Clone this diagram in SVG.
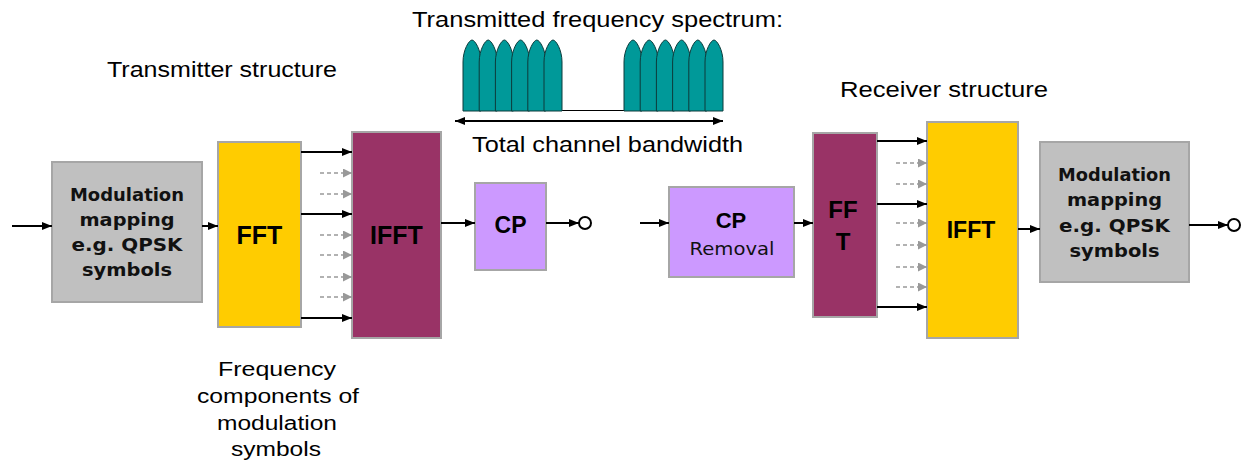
<svg xmlns="http://www.w3.org/2000/svg" width="1248" height="466" viewBox="0 0 1248 466">
<style>
.t{font-family:"Liberation Sans",Arial,sans-serif;font-size:22px;fill:#000}
.lbl{font-family:"Liberation Sans",Arial,sans-serif;font-size:20px;fill:#000;text-anchor:middle}
.bt{font-family:"DejaVu Sans",Tahoma,sans-serif;font-weight:bold;font-size:17px;fill:#111;text-anchor:middle}
.big{font-family:"Liberation Sans",Arial,sans-serif;font-weight:bold;fill:#000;text-anchor:middle}
.rt{font-family:"DejaVu Sans",Tahoma,sans-serif;font-size:17px;fill:#111;text-anchor:middle}
.box{stroke:#a6a6a6;stroke-width:2}
.gray{fill:#c0c0c0}
.yel{fill:#ffcc00}
.mar{fill:#993366}
.lav{fill:#cc99ff}
.a{stroke:#000;stroke-width:2;fill:none;marker-end:url(#ah)}
.d{stroke:#999;stroke-width:1.5;stroke-dasharray:4 3;fill:none;marker-end:url(#ahg)}
.lobe{fill:#009999;stroke:#0d3b3b;stroke-width:1}
</style>
<defs>
<marker id="ah" markerUnits="userSpaceOnUse" markerWidth="10" markerHeight="8" refX="10" refY="4" orient="auto"><path d="M0,0 L10,4 L0,8 Z" fill="#000"/></marker>
<marker id="ahg" markerUnits="userSpaceOnUse" markerWidth="9" markerHeight="9" refX="9" refY="4.5" orient="auto"><path d="M0,0 L9,4.5 L0,9 Z" fill="#999"/></marker>
<marker id="ahs" markerUnits="userSpaceOnUse" markerWidth="10" markerHeight="8" refX="10" refY="4" orient="auto-start-reverse"><path d="M0,0 L10,4 L0,8 Z" fill="#000"/></marker>
<path id="lb" d="M0,111 V62 C0,50 6,40 9,40 C12,40 18,50 18,62 V111 Z"/>
</defs>

<g id="titles">
<text class="t" x="412" y="27" textLength="371" lengthAdjust="spacingAndGlyphs">Transmitted frequency spectrum:</text>
<text class="t" x="107" y="77" textLength="230" lengthAdjust="spacingAndGlyphs">Transmitter structure</text>
<text class="t" x="840" y="97" textLength="208" lengthAdjust="spacingAndGlyphs">Receiver structure</text>
</g>

<g id="spectrum">
<line x1="463" y1="110.5" x2="722" y2="110.5" stroke="#000" stroke-width="1"/>
<use href="#lb" class="lobe" x="463"/>
<use href="#lb" class="lobe" x="479.2"/>
<use href="#lb" class="lobe" x="495.4"/>
<use href="#lb" class="lobe" x="511.6"/>
<use href="#lb" class="lobe" x="527.8"/>
<use href="#lb" class="lobe" x="544"/>
<use href="#lb" class="lobe" x="624"/>
<use href="#lb" class="lobe" x="640.2"/>
<use href="#lb" class="lobe" x="656.4"/>
<use href="#lb" class="lobe" x="672.6"/>
<use href="#lb" class="lobe" x="688.8"/>
<use href="#lb" class="lobe" x="705"/>
<line x1="455" y1="121" x2="723" y2="121" stroke="#000" stroke-width="2" marker-start="url(#ahs)" marker-end="url(#ahs)"/>
<text class="t" x="472" y="152" textLength="271" lengthAdjust="spacingAndGlyphs">Total channel bandwidth</text>
</g>

<g id="tx-mod">
<rect class="box gray" x="52" y="162" width="150" height="140"/>
<text class="bt" x="127" y="201" textLength="114" lengthAdjust="spacingAndGlyphs">Modulation</text>
<text class="bt" x="127" y="226" textLength="95" lengthAdjust="spacingAndGlyphs">mapping</text>
<text class="bt" x="127" y="251" textLength="111" lengthAdjust="spacingAndGlyphs">e.g. QPSK</text>
<text class="bt" x="127" y="276" textLength="90" lengthAdjust="spacingAndGlyphs">symbols</text>
</g>

<g id="tx-fft">
<rect class="box yel" x="218" y="142" width="83" height="185"/>
<text class="big" x="259.5" y="244" font-size="25">FFT</text>
</g>

<g id="tx-ifft">
<rect class="box mar" x="352" y="132" width="89" height="206"/>
<text class="big" x="396.5" y="244" font-size="25">IFFT</text>
</g>

<g id="tx-cp">
<rect class="box lav" x="475" y="183" width="71" height="87"/>
<text class="big" x="510.5" y="233" font-size="23">CP</text>
</g>

<g id="rx-cp">
<rect class="box lav" x="669" y="187" width="125" height="90"/>
<text class="big" x="731" y="228" font-size="22">CP</text>
<text class="rt" x="732" y="255" textLength="85" lengthAdjust="spacingAndGlyphs">Removal</text>
</g>

<g id="rx-fft">
<rect class="box mar" x="813" y="133" width="64" height="184"/>
<text class="big" x="843" y="218" font-size="24">FF</text>
<text class="big" x="843" y="250" font-size="24">T</text>
</g>

<g id="rx-ifft">
<rect class="box yel" x="927" y="122" width="91" height="216"/>
<text class="big" x="971" y="238" font-size="23">IFFT</text>
</g>

<g id="rx-mod">
<rect class="box gray" x="1040" y="142" width="149" height="140"/>
<text class="bt" x="1114.5" y="181" textLength="113" lengthAdjust="spacingAndGlyphs">Modulation</text>
<text class="bt" x="1114.5" y="206" textLength="95" lengthAdjust="spacingAndGlyphs">mapping</text>
<text class="bt" x="1114.5" y="232" textLength="111" lengthAdjust="spacingAndGlyphs">e.g. QPSK</text>
<text class="bt" x="1114.5" y="257" textLength="90" lengthAdjust="spacingAndGlyphs">symbols</text>
</g>

<g id="freq-label">
<text class="lbl" x="277" y="376" textLength="118" lengthAdjust="spacingAndGlyphs">Frequency</text>
<text class="lbl" x="278" y="403" textLength="162" lengthAdjust="spacingAndGlyphs">components of</text>
<text class="lbl" x="277" y="430" textLength="120" lengthAdjust="spacingAndGlyphs">modulation</text>
<text class="lbl" x="276" y="456" textLength="90" lengthAdjust="spacingAndGlyphs">symbols</text>
</g>

<g id="connectors">
<line class="a" x1="12" y1="226" x2="52" y2="226"/>
<line class="a" x1="202" y1="226" x2="218" y2="226"/>
<line class="a" x1="301" y1="152" x2="352" y2="152"/>
<line class="a" x1="301" y1="214" x2="352" y2="214"/>
<line class="a" x1="301" y1="318" x2="352" y2="318"/>
<line class="d" x1="320" y1="173" x2="352" y2="173"/>
<line class="d" x1="320" y1="194" x2="352" y2="194"/>
<line class="d" x1="320" y1="235" x2="352" y2="235"/>
<line class="d" x1="320" y1="255" x2="352" y2="255"/>
<line class="d" x1="320" y1="277" x2="352" y2="277"/>
<line class="d" x1="320" y1="297" x2="352" y2="297"/>
<line class="a" x1="441" y1="223" x2="475" y2="223"/>
<line class="a" x1="546" y1="223" x2="579" y2="223"/>
<circle cx="585" cy="223" r="6" fill="#fff" stroke="#000" stroke-width="2"/>
<line class="a" x1="640" y1="223" x2="669" y2="223"/>
<line class="a" x1="794" y1="223" x2="813" y2="223"/>
<line class="a" x1="877" y1="141" x2="927" y2="141"/>
<line class="a" x1="877" y1="204" x2="927" y2="204"/>
<line class="a" x1="877" y1="307" x2="927" y2="307"/>
<line class="d" x1="896" y1="163" x2="927" y2="163"/>
<line class="d" x1="896" y1="184" x2="927" y2="184"/>
<line class="d" x1="896" y1="223" x2="927" y2="223"/>
<line class="d" x1="896" y1="245" x2="927" y2="245"/>
<line class="d" x1="896" y1="267" x2="927" y2="267"/>
<line class="d" x1="896" y1="287" x2="927" y2="287"/>
<line class="a" x1="1018" y1="229" x2="1040" y2="229"/>
<line class="a" x1="1189" y1="225" x2="1228" y2="225"/>
<circle cx="1234" cy="225" r="6" fill="#fff" stroke="#000" stroke-width="2"/>
</g>
</svg>
